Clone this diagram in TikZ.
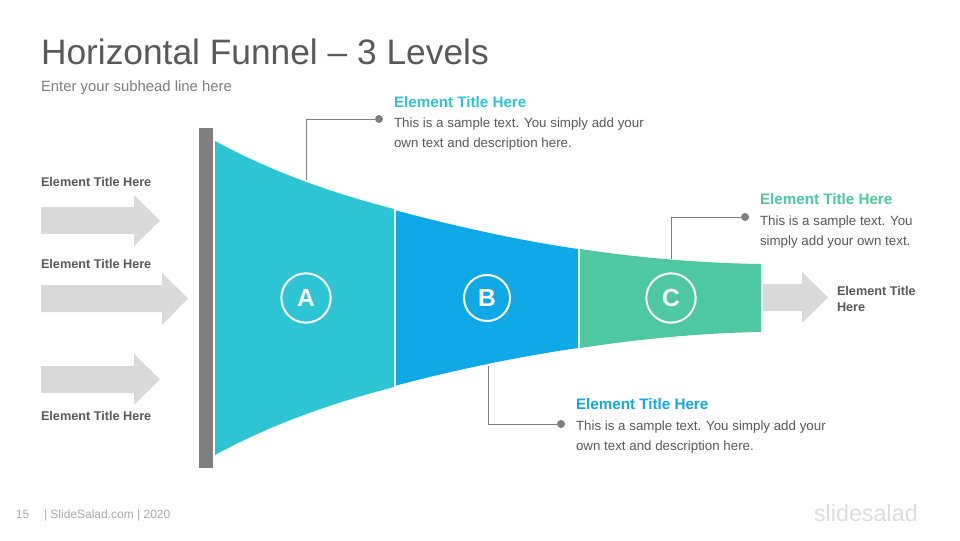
\documentclass[tikz,border=0pt]{standalone}
\usepackage{fontspec}
\setmainfont{Liberation Sans}
\newcommand{\fs}[1]{\fontsize{#1}{#1}\selectfont}
\definecolor{txtdark}{HTML}{595959}
\definecolor{txtmid}{HTML}{7F7F7F}
\definecolor{barg}{HTML}{7F7F7F}
\definecolor{arrowg}{HTML}{D9D9D9}
\definecolor{fa}{HTML}{2DC5D3}
\definecolor{fb}{HTML}{0FA9E8}
\definecolor{fc}{HTML}{4DC8A0}
\definecolor{foot}{HTML}{ABABAB}
\definecolor{logo}{HTML}{DCDCDC}
\tikzset{
  x=0.75pt,y=-0.75pt,
  txt/.style={anchor=base west,inner sep=0pt,outer sep=0pt},
  maintitle/.style={txt,text=txtdark,font=\fs{26.5}},
  subhead/.style={txt,text=txtmid,font=\fs{11.15}},
  elt/.style={txt,font=\fs{11.4}\bfseries},
  bodytxt/.style={txt,text=txtdark,font=\fs{10}},
  sidelab/.style={txt,text=txtdark,font=\fs{9.5}\bfseries},
  greyarrow/.style={fill=arrowg,draw=none},
  badge/.style={circle,draw=white,line width=1.5pt,minimum size=37pt,inner sep=0pt,text=white,font=\fs{18.5}\bfseries},
  dotn/.style={circle,fill=barg,draw=none,minimum size=6pt,inner sep=0pt},
  leader/.style={draw=barg,line width=0.75pt},
}
\begin{document}
\begin{tikzpicture}
\useasboundingbox[fill=white] (0,0) rectangle (960,540);
% title
\node[maintitle] (title) at (41,64) {Horizontal Funnel – 3 Levels};
\node[subhead] (sub) at (41,91) {Enter your subhead line here};
% bar
\fill[barg] (199,128) rectangle (213,468);
% funnel
\fill[fa] (215,141) .. controls (272,172) and (332,193) .. (394,209) -- (394,387) .. controls (332,403) and (272,424) .. (215,455) -- cycle;
\fill[fb] (396,210.5) .. controls (455,226) and (516,240) .. (578,249) -- (578,348) .. controls (516,357) and (455,370) .. (396,385.5) -- cycle;
\fill[fc] (580,249) .. controls (640,258) and (700,263) .. (761,264) -- (761,332) .. controls (700,333) and (640,339) .. (580,348) -- cycle;
% badges
\node[badge] (a) at (306,298) {A};
\node[badge,minimum size=34.5pt] (b) at (487,298) {B};
\node[badge] (c) at (671,298) {C};
% arrows
\fill[greyarrow] (41,207) -- (134,207) -- (134,195) -- (160,220.5) -- (134,246) -- (134,234) -- (41,234) -- cycle;
\fill[greyarrow] (41,285) -- (162,285) -- (162,273) -- (188,298.5) -- (162,325) -- (162,312) -- (41,312) -- cycle;
\fill[greyarrow] (41,366) -- (134,366) -- (134,354) -- (160,379.5) -- (134,405) -- (134,393) -- (41,393) -- cycle;
\fill[greyarrow] (763,284) -- (802,284) -- (802,272) -- (828,297.5) -- (802,323) -- (802,311) -- (763,311) -- cycle;
% side labels
\node[sidelab] (l1) at (41,186) {Element Title Here};
\node[sidelab] (l2) at (41,268) {Element Title Here};
\node[sidelab] (l3) at (41,420) {Element Title Here};
\node[sidelab] (r1) at (837,295) {Element Title};
\node[sidelab] (r2) at (837,311) {Here};
% leaders
\node[dotn] (d1) at (379,119) {};
\node[dotn] (d2) at (561,424) {};
\node[dotn] (d3) at (745,217) {};
\coordinate (p1) at (306,180);
\coordinate (p2) at (488,366);
\coordinate (p3) at (671,259);
\draw[leader] (p1) |- (d1);
\draw[leader] (p2) |- (d2);
\draw[leader] (p3) |- (d3);
% callouts
\node[elt,text=fa] (t1) at (394,107) {Element Title Here};
\node[bodytxt] (b11) at (394,127) {This is a sample text. You simply add your};
\node[bodytxt] (b12) at (394,147) {own text and description here.};
\node[elt,text=fb] (t2) at (576,409) {Element Title Here};
\node[bodytxt] (b21) at (576,430) {This is a sample text. You simply add your};
\node[bodytxt] (b22) at (576,450) {own text and description here.};
\node[elt,text=fc] (t3) at (760,204) {Element Title Here};
\node[bodytxt] (b31) at (760,225) {This is a sample text. You};
\node[bodytxt] (b32) at (760,245) {simply add your own text.};
% footer
\node[txt,text=foot,font=\fs{9}] (pg) at (16,518) {15};
\node[txt,text=foot,font=\fs{9}] (site) at (44,518) {| SlideSalad.com | 2020};
\node[txt,text=logo,font=\fs{17.5}] (lg) at (814,521) {slidesalad};
\end{tikzpicture}
\end{document}
